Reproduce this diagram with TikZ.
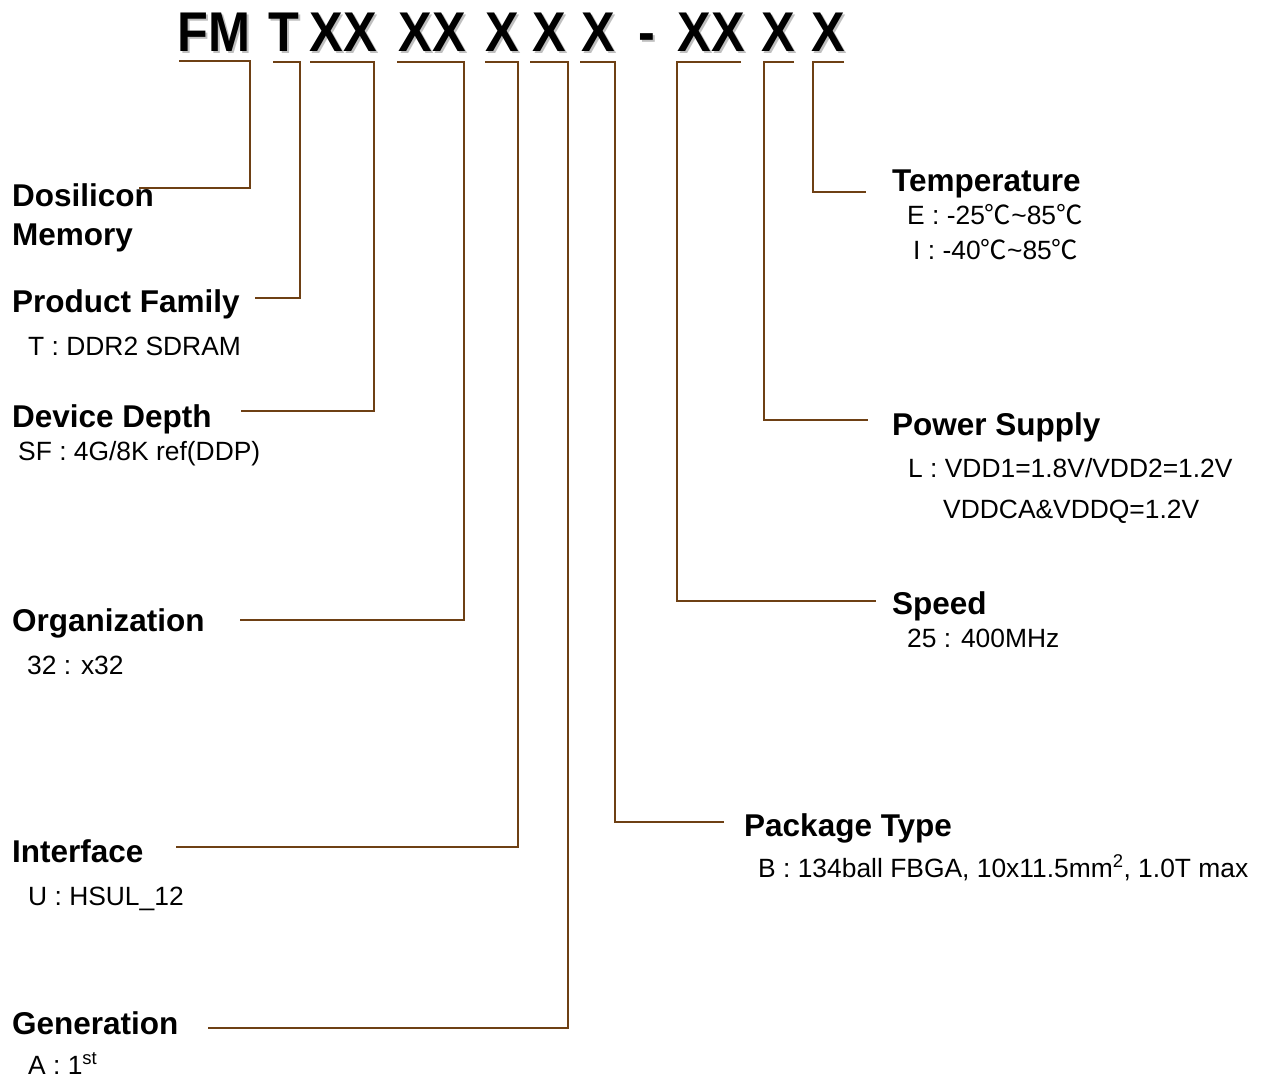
\documentclass[tikz,border=0pt]{standalone}
\usepackage{fontspec}
\setmainfont{Liberation Sans}
\newfontfamily\hdrfont[FakeStretch=0.9]{Liberation Sans}
\newfontfamily\cjk{Noto Sans CJK SC}
\definecolor{brn}{RGB}{110,64,20}
\newcommand{\degC}{{\cjk ℃}}
\tikzset{
  lab/.style={anchor=base west, inner sep=0pt, font=\fontsize{31.5}{34}\selectfont\bfseries},
  val/.style={anchor=base west, inner sep=0pt, font=\fontsize{26.4}{28}\selectfont},
  hdr/.style={anchor=base, inner sep=0pt, font=\hdrfont\fontsize{56}{60}\selectfont\bfseries},
  hdrsh/.style={hdr, text=black!25},
  br/.style={draw=brn, line width=2.4pt, line join=miter},
}
\begin{document}
\begin{tikzpicture}[x=1pt, y=-1pt]
\useasboundingbox[fill=white] (0,0) rectangle (1271,1078);

% header shadows
\foreach \n/\t/\x in {s1/FM/214, s2/T/284, s3/XX/343, s4/XX/432, s5/X/502, s6/X/549, s7/X/598, s8/-/647, s9/XX/711, s10/X/778, s11/X/828}
  \node[hdrsh] (\n) at (\x+2,54) {\t};
% header
\node[hdr] (hFM) at (214,52) {FM};
\node[hdr] (hT) at (284,52) {T};
\node[hdr] (hDD) at (343,52) {XX};
\node[hdr] (hOR) at (432,52) {XX};
\node[hdr] (hIF) at (502,52) {X};
\node[hdr] (hGE) at (549,52) {X};
\node[hdr] (hPK) at (598,52) {X};
\node[hdr] (hDash) at (647,52) {-};
\node[hdr] (hSP) at (711,52) {XX};
\node[hdr] (hPW) at (778,52) {X};
\node[hdr] (hTM) at (828,52) {X};

% left labels
\node[lab] (lDos) at (12,207) {Dosilicon};
\node[lab] (lMem) at (12,245) {Memory};
\node[lab] (lPF) at (12,312) {Product Family};
\node[val] (vPF) at (28,355) {T : DDR2 SDRAM};
\node[lab] (lDD) at (12,427) {Device Depth};
\node[val] (vDD) at (18,460) {SF : 4G/8K ref(DDP)};
\node[lab] (lOR) at (12,631) {Organization};
\node[val] (vOR) at (27,674) {32 : x32};
\node[lab] (lIF) at (12,862) {Interface};
\node[val] (vIF) at (28,905) {U : HSUL\_12};
\node[lab] (lGE) at (12,1034) {Generation};
\node[val] (vGE) at (28,1074) {A : 1\textsuperscript{st}};

% right labels
\node[lab] (lTM) at (892,192) {Temperature};
\node[val] (vTM1) at (907,225) {E : -25\degC\textasciitilde85\degC};
\node[val] (vTM2) at (913,259) {I : -40\degC\textasciitilde85\degC};
\node[lab] (lPW) at (892,435) {Power Supply};
\node[val] (vPW1) at (908,477) {L : VDD1=1.8V/VDD2=1.2V};
\node[val] (vPW2) at (943,518) {VDDCA\&VDDQ=1.2V};
\node[lab] (lSP) at (892,614) {Speed};
\node[val] (vSP) at (907,647) {25 : 400MHz};
\node[lab] (lPK) at (744,836) {Package Type};
\node[val] (vPK) at (758,877) {B : 134ball FBGA, 10x11.5mm\textsuperscript{2}, 1.0T max};

% connector end points
\coordinate (aFM) at (179,61);  \coordinate (kFM) at (250,61);  \coordinate (eFM) at (139,188);
\coordinate (aT)  at (273,62);  \coordinate (kT)  at (300,62);  \coordinate (eT)  at (255,298);
\coordinate (aDD) at (310,62);  \coordinate (kDD) at (374,62);  \coordinate (eDD) at (241,411);
\coordinate (aOR) at (397,62);  \coordinate (kOR) at (464,62);  \coordinate (eOR) at (240,620);
\coordinate (aIF) at (485,62);  \coordinate (kIF) at (518,62);  \coordinate (eIF) at (176,847);
\coordinate (aGE) at (530,62);  \coordinate (kGE) at (568,62);  \coordinate (eGE) at (208,1028);
\coordinate (aPK) at (580,62);  \coordinate (kPK) at (615,62);  \coordinate (ePK) at (724,822);
\coordinate (aSP) at (741,62);  \coordinate (kSP) at (677,62);  \coordinate (eSP) at (876,601);
\coordinate (aPW) at (794,62);  \coordinate (kPW) at (764,62);  \coordinate (ePW) at (868,420);
\coordinate (aTM) at (844,62);  \coordinate (kTM) at (813,62);  \coordinate (eTM) at (866,192);

% connectors
\foreach \k in {FM,T,DD,OR,IF,GE,PK,SP,PW,TM}
  \draw[br] (a\k) -- (k\k) |- (e\k);
\end{tikzpicture}
\end{document}
